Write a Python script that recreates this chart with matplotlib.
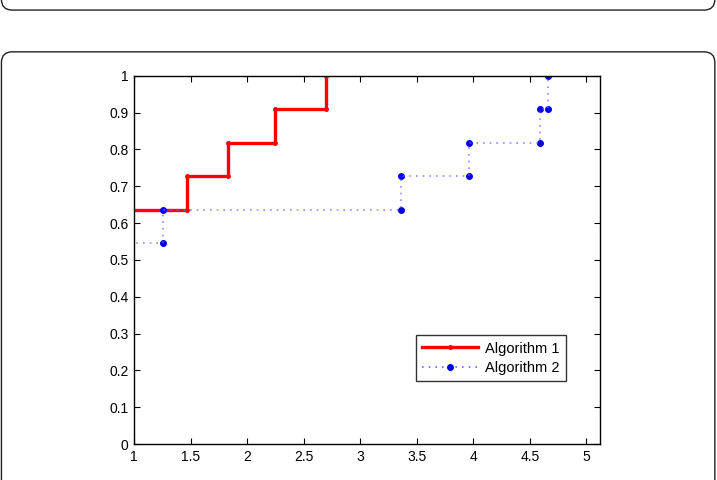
import numpy as np
import matplotlib.pyplot as plt
from matplotlib.patches import FancyBboxPatch

# step curves (corner points)
alg1_x = [0.9, 1.47, 1.47, 1.83, 1.83, 2.25, 2.25, 2.70, 2.70]
alg1_y = [0.636, 0.636, 0.727, 0.727, 0.818, 0.818, 0.909, 0.909, 1.0]

alg2_x = [0.9, 1.26, 1.26, 3.36, 3.36, 3.96, 3.96, 4.59, 4.59, 4.66, 4.66]
alg2_y = [0.545, 0.545, 0.636, 0.636, 0.727, 0.727, 0.818, 0.818, 0.909, 0.909, 1.0]

labels = ["Algorithm 1", "Algorithm 2"]

plt.rcParams['font.family'] = ['Liberation Sans', 'DejaVu Sans']

fig = plt.figure(figsize=(7.17, 4.8), dpi=100)

# panel frames (top one cut off, lower one holds the chart)
for (y0, h) in [(0.979, 0.3), (-0.3, 1.192)]:
    box = FancyBboxPatch((0.002, y0), 0.995, h, boxstyle="round,pad=0,rounding_size=0.015",
                         transform=fig.transFigure, facecolor='none', edgecolor='#222222',
                         linewidth=1.0, mutation_aspect=717 / 480)
    fig.add_artist(box)

ax = fig.add_axes([0.1869, 0.075, 0.6499, 0.7673])

ax.plot(alg1_x, alg1_y, color='#ff0000', linewidth=2.4, marker='.', markersize=5,
        label=labels[0])
ax.plot(alg2_x[1:], alg2_y[1:], linestyle='none', marker='o', markersize=4,
        color='#0000ee')
ax.plot(alg2_x, alg2_y, color='#6666ff', linewidth=1.2, linestyle=(0, (1, 3)),
        alpha=0.75)
l2, = ax.plot([], [], color='#6666ff', linewidth=1.2, linestyle=(0, (1, 3)),
              marker='o', markersize=4, markerfacecolor='#0000ee',
              markeredgecolor='#0000ee', label=labels[1])

ax.set_xlim(1, 5.12)
ax.set_ylim(0, 1)
ax.set_xticks(np.arange(1, 5.01, 0.5))
ax.set_xticklabels(['1', '1.5', '2', '2.5', '3', '3.5', '4', '4.5', '5'])
ax.set_yticks(np.arange(0, 1.01, 0.1))
ax.set_yticklabels(['0', '0.1', '0.2', '0.3', '0.4', '0.5', '0.6', '0.7', '0.8', '0.9', '1'])
ax.tick_params(direction='in', top=True, right=True, length=4, width=0.8,
               labelsize=10, pad=4)
for s in ax.spines.values():
    s.set_linewidth(1.0)

leg = ax.legend(loc='upper left', bbox_to_anchor=(0.605, 0.296), borderaxespad=0,
                fancybox=False, edgecolor='black', fontsize=10.5, handlelength=3.8,
                borderpad=0.45, labelspacing=0.35, handletextpad=0.5)
leg.get_frame().set_linewidth(1.0)

fig.savefig('out.png', dpi=100)
